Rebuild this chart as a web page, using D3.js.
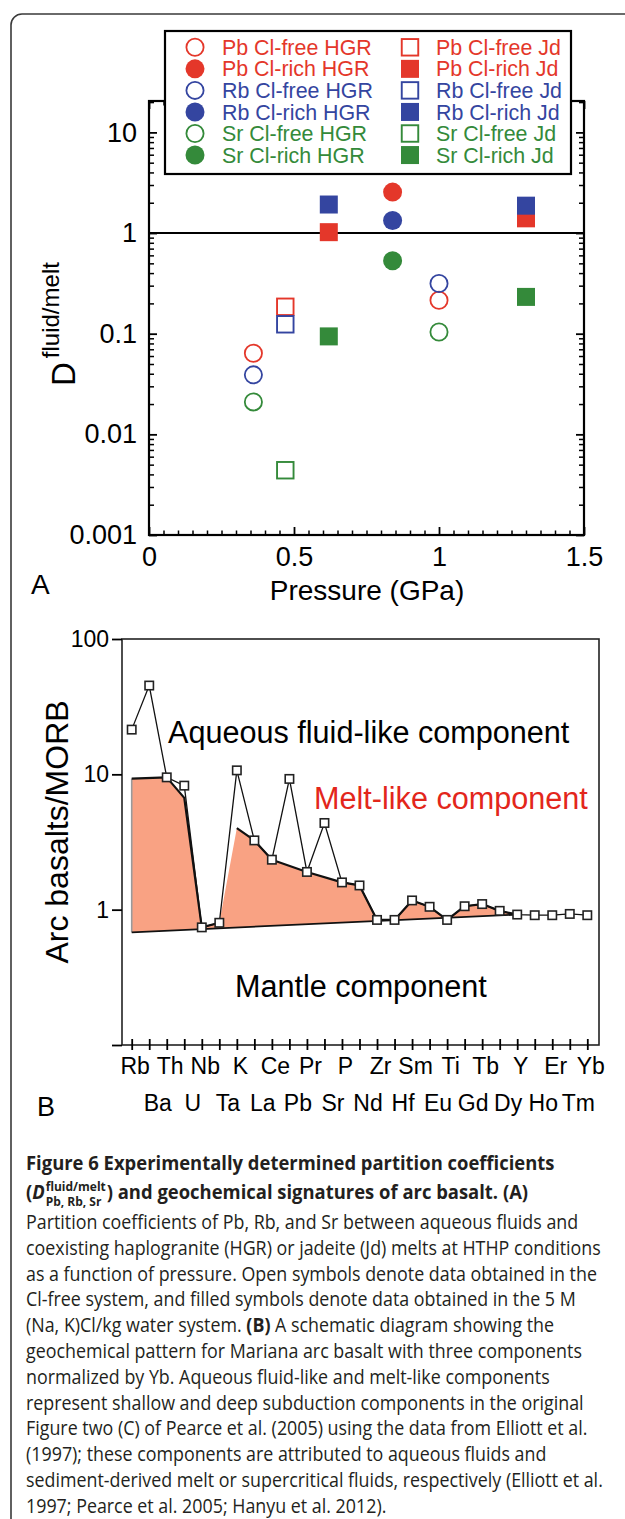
<!DOCTYPE html>
<html><head><meta charset="utf-8">
<script src="https://cdn.jsdelivr.net/npm/d3@7"></script>
<style>body{margin:0;background:#fff}svg{display:block}</style>
</head><body>
<svg id="c" width="625" height="1519"></svg>
<script>
// ---------- DATA: panel A ----------
const pressureTicks = [0, 0.5, 1, 1.5];
const pressureTickLabels = ["0", "0.5", "1", "1.5"];
const dTicks = [0.001, 0.01, 0.1, 1, 10];
const dTickLabels = ["0.001", "0.01", "0.1", "1", "10"];
const legendNames = [
  "Pb Cl-free HGR", "Pb Cl-rich HGR", "Rb Cl-free HGR", "Rb Cl-rich HGR", "Sr Cl-free HGR", "Sr Cl-rich HGR",
  "Pb Cl-free Jd", "Pb Cl-rich Jd", "Rb Cl-free Jd", "Rb Cl-rich Jd", "Sr Cl-free Jd", "Sr Cl-rich Jd"
];
const hgrFreeP = [0.36, 1.0];
const pbHgrFree = [0.064, 0.215];
const rbHgrFree = [0.039, 0.315];
const srHgrFree = [0.021, 0.104];
const hgrRichP = [0.84];
const pbHgrRich = [2.55];
const rbHgrRich = [1.33];
const srHgrRich = [0.53];
const jdFreeP = [0.47];
const pbJdFree = [0.185];
const rbJdFree = [0.124];
const srJdFree = [0.0044];
const jdRichP = [0.62, 1.3];
const pbJdRich = [1.02, 1.40];
const rbJdRich = [1.92, 1.87];
const srJdRich = [0.094, 0.232];

// ---------- DATA: panel B ----------
const elements = ["Rb","Ba","Th","U","Nb","Ta","K","La","Ce","Pb","Pr","Sr","P","Nd","Zr","Hf","Sm","Eu","Ti","Gd","Tb","Dy","Y","Ho","Er","Tm","Yb"];
const arcBasalt = [21.4,45.3,9.5,8.25,0.74,0.80,10.7,3.25,2.34,9.25,1.90,4.37,1.59,1.51,0.84,0.84,1.17,1.05,0.84,1.06,1.10,0.98,0.92,0.91,0.91,0.93,0.91];
const meltElements = ["Rb","Th","U","Nb","Ta","K","La","Ce","Pr","P","Nd","Zr","Hf","Sm","Eu","Ti","Gd","Tb","Dy","Y"];
const meltValues = [9.3,9.5,6.7,0.74,0.80,4.0,3.25,2.34,1.90,1.59,1.51,0.84,0.84,1.17,1.05,0.84,1.06,1.10,0.98,0.92];
const mantleElements = ["Rb","Y"];
const mantleValues = [0.68,0.92];
const bTicks = [0.1, 1, 10, 100];
const bTickLabels = ["", "1", "10", "100"];

const captionLines = [
  "Partition coefficients of Pb, Rb, and Sr between aqueous fluids and",
  "coexisting haplogranite (HGR) or jadeite (Jd) melts at HTHP conditions",
  "as a function of pressure. Open symbols denote data obtained in the",
  "Cl-free system, and filled symbols denote data obtained in the 5 M",
  "(Na, K)Cl/kg water system. |(B)| A schematic diagram showing the",
  "geochemical pattern for Mariana arc basalt with three components",
  "normalized by Yb. Aqueous fluid-like and melt-like components",
  "represent shallow and deep subduction components in the original",
  "Figure two (C) of Pearce et al. (2005) using the data from Elliott et al.",
  "(1997); these components are attributed to aqueous fluids and",
  "sediment-derived melt or supercritical fluids, respectively (Elliott et al.",
  "1997; Pearce et al. 2005; Hanyu et al. 2012)."
];

// ---------- STYLE ----------
const RED = "#e4372a", BLUE = "#3445a0", GREEN = "#348a3a";
const FONT = "'Liberation Sans', Arial, Helvetica, sans-serif";
const CAPFONT = "'Open Sans', 'Noto Sans', sans-serif";

const svg = d3.select("#c").style("font-family", FONT);

// outer rounded border
svg.append("rect").attr("x", 11).attr("y", 14).attr("width", 700).attr("height", 1600)
  .attr("rx", 11).attr("fill", "none").attr("stroke", "#3a3a3a").attr("stroke-width", 1.6);

// ================= PANEL A =================
const xA = d3.scaleLinear().domain([0, 1.5]).range([149, 584]);
const yA = d3.scaleLog().domain([0.001, 20.5]).range([535, 101]);
const gA = svg.append("g");

function minorLog(lo, hi) {
  const out = [];
  for (let e = lo; e < hi; e++) for (let m = 2; m <= 9; m++) out.push(m * Math.pow(10, e));
  return out;
}
const minorY = minorLog(-3, 2).filter(v => v <= 20.5);
const minorX = d3.range(0, 31).map(i => i * 0.05).filter(v => pressureTicks.indexOf(+v.toFixed(2)) < 0);

function styleAxis(g, size, w) {
  g.select(".domain").remove();
  g.selectAll("line").attr("stroke", "#000").attr("stroke-width", w);
  g.selectAll("text").attr("font-size", size).attr("fill", "#000").attr("font-family", FONT);
}

// bottom axis
gA.append("g").attr("transform", "translate(0,535)")
  .call(d3.axisBottom(xA).tickValues(pressureTicks).tickSize(-8).tickSizeOuter(0).tickPadding(12)
    .tickFormat((d, i) => pressureTickLabels[i]))
  .call(g => styleAxis(g, 27, 1.8));
gA.append("g").attr("transform", "translate(0,535)")
  .call(d3.axisBottom(xA).tickValues(minorX).tickSize(-4.5).tickSizeOuter(0).tickFormat(""))
  .call(g => styleAxis(g, 0, 1.5));
// top axis
gA.append("g").attr("transform", "translate(0,101)")
  .call(d3.axisTop(xA).tickValues(pressureTicks).tickSize(-8).tickSizeOuter(0).tickFormat(""))
  .call(g => styleAxis(g, 0, 1.8));
gA.append("g").attr("transform", "translate(0,101)")
  .call(d3.axisTop(xA).tickValues(minorX).tickSize(-4.5).tickSizeOuter(0).tickFormat(""))
  .call(g => styleAxis(g, 0, 1.5));
// left axis
gA.append("g").attr("transform", "translate(149,0)")
  .call(d3.axisLeft(yA).tickValues(dTicks).tickSize(-8).tickSizeOuter(0).tickPadding(12)
    .tickFormat((d, i) => dTickLabels[i]))
  .call(g => styleAxis(g, 27, 1.8));
gA.append("g").attr("transform", "translate(149,0)")
  .call(d3.axisLeft(yA).tickValues(minorY).tickSize(-5).tickSizeOuter(0).tickFormat(""))
  .call(g => styleAxis(g, 0, 1.5));
// right axis
gA.append("g").attr("transform", "translate(584,0)")
  .call(d3.axisRight(yA).tickValues(dTicks).tickSize(-8).tickSizeOuter(0).tickFormat(""))
  .call(g => styleAxis(g, 0, 1.8));
gA.append("g").attr("transform", "translate(584,0)")
  .call(d3.axisRight(yA).tickValues(minorY).tickSize(-5).tickSizeOuter(0).tickFormat(""))
  .call(g => styleAxis(g, 0, 1.5));

// frame
gA.append("rect").attr("x", xA(0)).attr("y", yA(20.5)).attr("width", xA(1.5) - xA(0))
  .attr("height", yA(0.001) - yA(20.5)).attr("fill", "none").attr("stroke", "#000").attr("stroke-width", 2.2);
// D = 1 line
gA.append("line").attr("x1", xA(0)).attr("x2", xA(1.5)).attr("y1", yA(1)).attr("y2", yA(1))
  .attr("stroke", "#000").attr("stroke-width", 2);

// series
const seriesA = [
  { name: legendNames[0], color: RED, shape: "circle", filled: false, p: hgrFreeP, v: pbHgrFree },
  { name: legendNames[2], color: BLUE, shape: "circle", filled: false, p: hgrFreeP, v: rbHgrFree },
  { name: legendNames[4], color: GREEN, shape: "circle", filled: false, p: hgrFreeP, v: srHgrFree },
  { name: legendNames[1], color: RED, shape: "circle", filled: true, p: hgrRichP, v: pbHgrRich },
  { name: legendNames[3], color: BLUE, shape: "circle", filled: true, p: hgrRichP, v: rbHgrRich },
  { name: legendNames[5], color: GREEN, shape: "circle", filled: true, p: hgrRichP, v: srHgrRich },
  { name: legendNames[6], color: RED, shape: "square", filled: false, p: jdFreeP, v: pbJdFree },
  { name: legendNames[8], color: BLUE, shape: "square", filled: false, p: jdFreeP, v: rbJdFree },
  { name: legendNames[10], color: GREEN, shape: "square", filled: false, p: jdFreeP, v: srJdFree },
  { name: legendNames[7], color: RED, shape: "square", filled: true, p: jdRichP, v: pbJdRich },
  { name: legendNames[9], color: BLUE, shape: "square", filled: true, p: jdRichP, v: rbJdRich },
  { name: legendNames[11], color: GREEN, shape: "square", filled: true, p: jdRichP, v: srJdRich }
];

function drawSymbol(g, shape, filled, color, cx, cy) {
  if (shape === "circle") {
    g.append("circle").attr("cx", cx).attr("cy", cy).attr("r", filled ? 9.5 : 8.6)
      .attr("fill", filled ? color : "none").attr("stroke", filled ? "none" : color).attr("stroke-width", 1.8);
  } else {
    const s = filled ? 18 : 16.5;
    g.append("rect").attr("x", cx - s / 2).attr("y", cy - s / 2).attr("width", s).attr("height", s)
      .attr("fill", filled ? color : "none").attr("stroke", filled ? "none" : color).attr("stroke-width", 1.9);
  }
}

const gPts = gA.append("g");
seriesA.forEach(s => s.p.forEach((p, i) => drawSymbol(gPts, s.shape, s.filled, s.color, xA(p), yA(s.v[i]))));

// legend
const gL = gA.append("g");
gL.append("rect").attr("x", 165).attr("y", 31).attr("width", 406).attr("height", 143)
  .attr("fill", "#fff").attr("stroke", "#000").attr("stroke-width", 2.2);
const legendColors = [RED, RED, BLUE, BLUE, GREEN, GREEN];
legendNames.forEach((n, i) => {
  const col = i < 6 ? 0 : 1, row = i % 6;
  const y = 47.3 + row * 21.55;
  const sx = col === 0 ? 195 : 410;
  drawSymbol(gL, col === 0 ? "circle" : "square", row % 2 === 1, legendColors[row], sx, y);
  gL.append("text").attr("x", col === 0 ? 222 : 436).attr("y", y + 7.6).attr("font-size", 21.4)
    .attr("fill", legendColors[row]).text(n);
});

// axis titles
gA.append("text").attr("x", 367).attr("y", 600).attr("text-anchor", "middle").attr("font-size", 28).text("Pressure (GPa)");
gA.append("text").attr("x", 31).attr("y", 594).attr("font-size", 28).text("A");
const yl = gA.append("text").attr("transform", "translate(75,386) rotate(-90)").attr("font-size", 33);
yl.append("tspan").text("D");
yl.append("tspan").attr("font-size", 24).attr("dx", 4).attr("dy", -16).text("fluid/melt");

// ================= PANEL B =================
const xB = d3.scalePoint().domain(elements).range([131.7, 587.3]);
const yB = d3.scaleLog().domain([0.1, 100]).range([1045, 639]);
const gB = svg.append("g");

const lineB = d3.line().x(d => xB(d[0])).y(d => yB(d[1]));
const meltPts = meltElements.map((e, i) => [e, meltValues[i]]);
const mantlePts = mantleElements.map((e, i) => [e, mantleValues[i]]);
gB.append("path").attr("d", lineB(meltPts.concat(mantlePts.slice().reverse())) + "Z")
  .attr("fill", "#f9a283").attr("stroke", "none");
gB.append("path").attr("d", lineB([meltPts[0], mantlePts[0]])).attr("stroke", "#9a9a9a").attr("stroke-width", 1.6).attr("fill", "none");
gB.append("path").attr("d", lineB(meltPts.slice(0, 5))).attr("fill", "none").attr("stroke", "#111").attr("stroke-width", 2.2).attr("stroke-linejoin", "round");
gB.append("path").attr("d", lineB(meltPts.slice(5))).attr("fill", "none").attr("stroke", "#111").attr("stroke-width", 2.2).attr("stroke-linejoin", "round");
gB.append("path").attr("d", lineB(mantlePts)).attr("fill", "none").attr("stroke", "#111").attr("stroke-width", 1.8);

const arcPts = elements.map((e, i) => [e, arcBasalt[i]]);
gB.append("path").attr("d", lineB(arcPts)).attr("fill", "none").attr("stroke", "#111").attr("stroke-width", 1.3);
gB.selectAll("rect.m").data(arcPts).join("rect").attr("class", "m")
  .attr("x", d => xB(d[0]) - 4.2).attr("y", d => yB(d[1]) - 4.2).attr("width", 8.4).attr("height", 8.4)
  .attr("fill", "#fff").attr("stroke", "#222").attr("stroke-width", 1.6);

gB.append("rect").attr("x", 122).attr("y", yB(100)).attr("width", 599 - 122).attr("height", yB(0.1) - yB(100))
  .attr("fill", "none").attr("stroke", "#222").attr("stroke-width", 1.6);
gB.append("g").attr("transform", "translate(122,0)")
  .call(d3.axisLeft(yB).tickValues(bTicks).tickSize(10).tickSizeOuter(0).tickPadding(3)
    .tickFormat((d, i) => bTickLabels[i]))
  .call(g => styleAxis(g, 23, 1.8));
gB.append("g").attr("transform", "translate(0,1045)")
  .call(d3.axisTop(xB).tickSize(6).tickSizeOuter(0).tickFormat(""))
  .call(g => styleAxis(g, 0, 1.8));
gB.append("g").attr("transform", "translate(0,1045)")
  .call(d3.axisBottom(xB).tickSize(5).tickSizeOuter(0).tickPadding(8)
    .tickFormat((d, i) => i % 2 === 0 ? d : ""))
  .call(g => styleAxis(g, 23, 1.8))
  .call(g => g.selectAll("text").attr("dx", 3));
gB.append("g").attr("transform", "translate(0,1045)")
  .call(d3.axisBottom(xB).tickSize(0).tickSizeOuter(0).tickPadding(50)
    .tickFormat((d, i) => i % 2 === 1 ? d : ""))
  .call(g => styleAxis(g, 23, 0))
  .call(g => g.selectAll("text").attr("dx", 8));

gB.append("text").attr("x", 168).attr("y", 743).attr("font-size", 30.6).text("Aqueous fluid-like component");
gB.append("text").attr("x", 314).attr("y", 809).attr("font-size", 30.6).attr("fill", "#e3261b").text("Melt-like component");
gB.append("text").attr("x", 235).attr("y", 997).attr("font-size", 30.6).text("Mantle component");
gB.append("text").attr("transform", "translate(68,832) rotate(-90)").attr("text-anchor", "middle")
  .attr("font-size", 32).text("Arc basalts/MORB");
gB.append("text").attr("x", 37).attr("y", 1116).attr("font-size", 27).text("B");

// ================= CAPTION =================
const gC = svg.append("g").attr("font-family", CAPFONT).attr("fill", "#231f20");
const boldG = gC.append("g");
const inner = gC.append("g");
const fs = 19.5;
const l1 = boldG.append("text").attr("x", 0).attr("y", 1170).attr("font-size", fs + 0.5).attr("font-weight", "bold")
  .text("Figure 6 Experimentally determined partition coefficients");
const l2a = boldG.append("text").attr("x", 0).attr("y", 1199).attr("font-size", fs + 0.5).attr("font-weight", "bold");
l2a.append("tspan").text("(");
l2a.append("tspan").attr("font-style", "italic").text("D");
const w1 = l2a.node().getComputedTextLength();
const sup = boldG.append("text").attr("x", w1 + 1).attr("y", 1191).attr("font-size", 13).attr("font-weight", "bold").text("fluid/melt");
const sub = boldG.append("text").attr("x", w1 + 1).attr("y", 1206).attr("font-size", 13).attr("font-weight", "bold").text("Pb, Rb, Sr");
const w2 = Math.max(sup.node().getComputedTextLength(), sub.node().getComputedTextLength());
boldG.append("text").attr("x", w1 + w2 + 2).attr("y", 1199).attr("font-size", fs + 0.5).attr("font-weight", "bold")
  .text(") and geochemical signatures of arc basalt. (A)");
const sxb = 529 / l1.node().getComputedTextLength();
boldG.attr("transform", `translate(26,0) scale(${sxb},1)`);

let widest = 0;
captionLines.forEach((ln, i) => {
  const t = inner.append("text").attr("x", 0).attr("y", 1229 + i * 25.8).attr("font-size", fs);
  ln.split("|").forEach((part, k) => {
    t.append("tspan").attr("font-weight", k % 2 === 1 ? "bold" : "normal").text(part);
  });
  if (i === 1) widest = t.node().getComputedTextLength();
});
const sx = 575 / widest;
inner.attr("transform", `translate(26,0) scale(${sx},1)`);
</script>
</body></html>
